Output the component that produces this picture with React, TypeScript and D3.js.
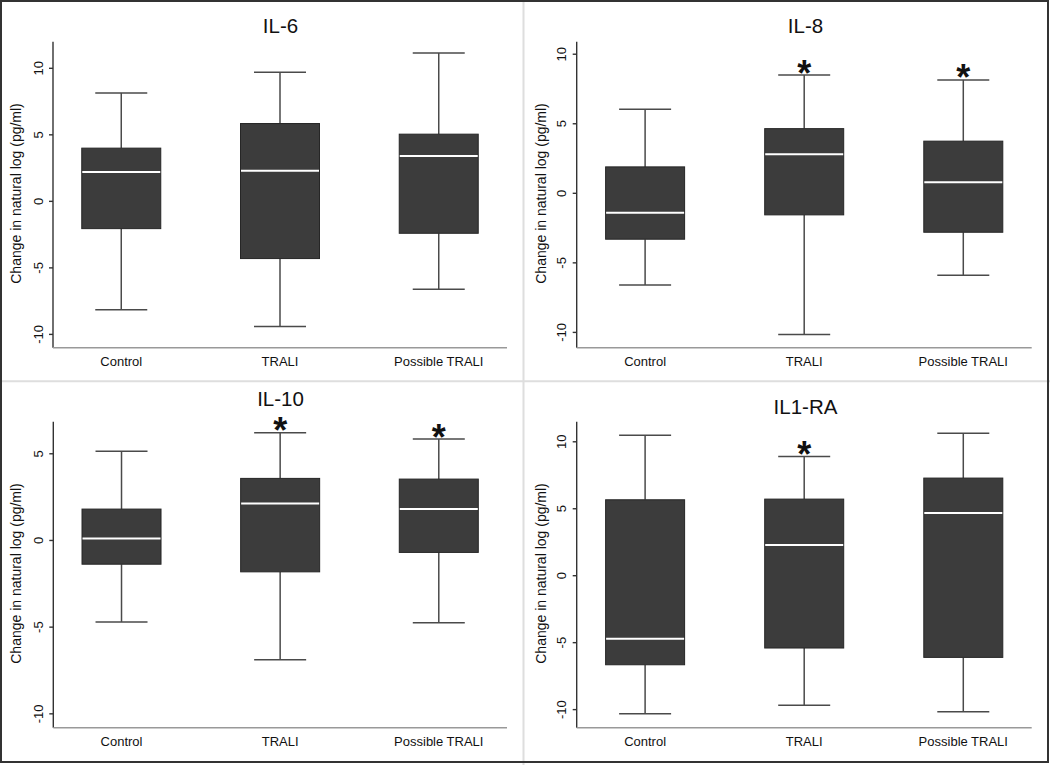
import React from "react";
import * as d3 from "d3";

const categories = ["Control", "TRALI", "Possible TRALI"];

// [lower whisker, Q1, median, Q3, upper whisker] per category
const il6Stats = [
  [-8.15, -2.05, 2.2, 4.0, 8.15],
  [-9.4, -4.3, 2.3, 5.85, 9.7],
  [-6.6, -2.4, 3.4, 5.05, 11.15],
];
const il8Stats = [
  [-6.6, -3.3, -1.4, 1.9, 6.05],
  [-10.15, -1.55, 2.8, 4.65, 8.5],
  [-5.9, -2.8, 0.8, 3.75, 8.15],
];
const il10Stats = [
  [-4.7, -1.37, 0.12, 1.81, 5.15],
  [-6.88, -1.81, 2.13, 3.58, 6.21],
  [-4.75, -0.69, 1.81, 3.54, 5.85],
];
const il1raStats = [
  [-10.3, -6.65, -4.7, 5.67, 10.48],
  [-9.67, -5.4, 2.3, 5.72, 8.9],
  [-10.15, -6.1, 4.68, 7.29, 10.63],
];

const il6Sig = [false, false, false];
const il8Sig = [false, true, true];
const il10Sig = [false, true, true];
const il1raSig = [false, true, false];

const ticksFull = [-10, -5, 0, 5, 10];
const ticksIL10 = [-10, -5, 0, 5];

const yLabel = "Change in natural log (pg/ml)";
const FONT = "'Liberation Sans', Arial, Helvetica, sans-serif";

type PanelProps = {
  ox: number;
  oy: number;
  title: string;
  titleY: number;
  stats: number[][];
  sig: boolean[];
  ticks: number[];
  domain: [number, number];
  axisX: number;
  right: number;
};

function Panel(p: PanelProps) {
  const top = 41.7;
  const bottom = 347.7;
  const y = d3.scaleLinear().domain(p.domain).range([bottom, top]);
  const x = d3.scalePoint<string>().domain(categories).range([p.axisX, p.right]).padding(0.43);
  const boxW = 79;
  const capW = 52;
  const astFs = 36;
  return (
    <g transform={`translate(${p.ox},${p.oy})`}>
      <text x={280.5} y={p.titleY} textAnchor="middle" fontSize={20.5} fontFamily={FONT} fill="#111">
        {p.title}
      </text>
      <text
        transform={`translate(20.5,193.5) rotate(-90)`}
        textAnchor="middle"
        fontSize={14}
        fontFamily={FONT}
        fill="#111"
      >
        {yLabel}
      </text>
      {/* y axis */}
      <line x1={p.axisX} x2={p.axisX} y1={top} y2={bottom} stroke="#333" strokeWidth={1.4} />
      {p.ticks.map((t) => (
        <g key={t}>
          <line x1={p.axisX - 4} x2={p.axisX} y1={y(t)} y2={y(t)} stroke="#333" strokeWidth={1.4} />
          <text
            transform={`translate(${p.axisX - 10.5},${y(t)}) rotate(-90)`}
            textAnchor="middle"
            fontSize={13}
            fontFamily={FONT}
            fill="#111"
          >
            {t}
          </text>
        </g>
      ))}
      {/* x axis */}
      <line x1={p.axisX} x2={p.right} y1={bottom} y2={bottom} stroke="#999" strokeWidth={1.5} />
      {categories.map((c) => (
        <text key={c} x={x(c)} y={366} textAnchor="middle" fontSize={13} fontFamily={FONT} fill="#111">
          {c}
        </text>
      ))}
      {/* boxes */}
      {categories.map((c, i) => {
        const [lo, q1, med, q3, hi] = p.stats[i];
        const cx = x(c) as number;
        return (
          <g key={c}>
            <line x1={cx} x2={cx} y1={y(hi)} y2={y(q3)} stroke="#4a4a4a" strokeWidth={1.5} />
            <line x1={cx} x2={cx} y1={y(q1)} y2={y(lo)} stroke="#4a4a4a" strokeWidth={1.5} />
            <line x1={cx - capW / 2} x2={cx + capW / 2} y1={y(hi)} y2={y(hi)} stroke="#4a4a4a" strokeWidth={1.5} />
            <line x1={cx - capW / 2} x2={cx + capW / 2} y1={y(lo)} y2={y(lo)} stroke="#4a4a4a" strokeWidth={1.5} />
            <rect
              x={cx - boxW / 2}
              y={y(q3)}
              width={boxW}
              height={y(q1) - y(q3)}
              fill="#3c3c3c"
              stroke="#262626"
              strokeWidth={1}
            />
            <line x1={cx - boxW / 2 + 0.5} x2={cx + boxW / 2 - 0.5} y1={y(med)} y2={y(med)} stroke="#fff" strokeWidth={2} />
            {p.sig[i] && (
              <text
                x={cx}
                y={y(hi) - 3.5 + 0.39 * astFs}
                textAnchor="middle"
                fontSize={astFs}
                fontWeight="bold"
                fontFamily={FONT}
                fill="#111"
              >
                *
              </text>
            )}
          </g>
        );
      })}
    </g>
  );
}

export default function App() {
  return (
    <svg
      width={1050}
      height={765}
      style={{ position: "absolute", left: 0, top: 0, background: "#fff" }}
    >
      <rect x={0} y={0} width={1050} height={765} fill="#fff" />
      <Panel ox={0} oy={0} title="IL-6" titleY={33.3} stats={il6Stats} sig={il6Sig} ticks={ticksFull} domain={[-11, 12]} axisX={53} right={507} />
      <Panel ox={525} oy={0} title="IL-8" titleY={33.3} stats={il8Stats} sig={il8Sig} ticks={ticksFull} domain={[-11.1, 10.9]} axisX={51.7} right={506.7} />
      <Panel ox={0} oy={380} title="IL-10" titleY={26} stats={il10Stats} sig={il10Sig} ticks={ticksIL10} domain={[-10.8, 6.85]} axisX={53.3} right={507} />
      <Panel ox={525} oy={380} title="IL1-RA" titleY={34} stats={il1raStats} sig={il1raSig} ticks={ticksFull} domain={[-11.35, 11.5]} axisX={51.7} right={506.7} />
      <line x1={523.5} x2={523.5} y1={0} y2={765} stroke="#dedede" strokeWidth={2} />
      <line x1={0} x2={1050} y1={381.3} y2={381.3} stroke="#dedede" strokeWidth={2} />
      <rect x={1} y={1} width={1047} height={761} fill="none" stroke="#333" strokeWidth={2} />
    </svg>
  );
}
